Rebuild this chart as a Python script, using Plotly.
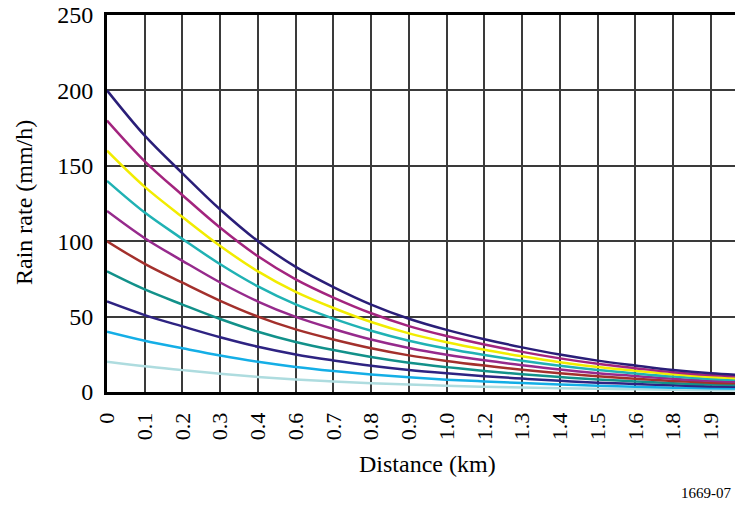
import plotly.graph_objects as go

# x positions (grid index) of the sampled points; last point is the right edge
x_pos = [0, 1, 2, 3, 4, 5, 6, 7, 8, 9, 10, 11, 12, 13, 14, 15, 16, 16.7]

# tick labels as printed under each vertical grid line
tick_pos = list(range(17))
tick_labels = ["0", "0.1", "0.2", "0.3", "0.4", "0.6", "0.7", "0.8", "0.9", "1.0",
               "1.2", "1.3", "1.4", "1.5", "1.6", "1.8", "1.9"]

r200 = [200, 170, 145, 121, 100, 83, 69.6, 58, 48.6, 41.2, 35, 29.6, 24.8, 20.8, 17.6, 14.6, 12.4, 11.4]
r180 = [180, 153, 130.5, 108.9, 90, 74.7, 62.6, 52.2, 43.7, 37.1, 31.5, 26.6, 22.3, 18.7, 15.8, 13.1, 11.2, 10.3]
r160 = [160, 136, 116, 96.8, 80, 66.4, 55.7, 46.4, 38.9, 33, 28, 23.7, 19.8, 16.6, 14.1, 11.7, 9.9, 9.1]
r140 = [140, 119, 101.5, 84.7, 70, 58.1, 48.7, 40.6, 34, 28.8, 24.5, 20.7, 17.4, 14.6, 12.3, 10.2, 8.7, 8]
r120 = [120, 102, 87, 72.6, 60, 49.8, 41.8, 34.8, 29.2, 24.7, 21, 17.8, 14.9, 12.5, 10.6, 8.8, 7.4, 6.8]
r100 = [100, 85, 72.5, 60.5, 50, 41.5, 34.8, 29, 24.3, 20.6, 17.5, 14.8, 12.4, 10.4, 8.8, 7.3, 6.2, 5.7]
r80 = [80, 68, 58, 48.4, 40, 33.2, 27.8, 23.2, 19.4, 16.5, 14, 11.8, 9.9, 8.3, 7, 5.8, 5, 4.6]
r60 = [60, 51, 43.5, 36.3, 30, 24.9, 20.9, 17.4, 14.6, 12.4, 10.5, 8.9, 7.4, 6.2, 5.3, 4.4, 3.7, 3.4]
r40 = [40, 34, 29, 24.2, 20, 16.6, 13.9, 11.6, 9.7, 8.2, 7, 5.9, 5, 4.2, 3.5, 2.9, 2.5, 2.3]
r20 = [20, 17, 14.5, 12.1, 10, 8.3, 7, 5.8, 4.9, 4.1, 3.5, 3, 2.5, 2.1, 1.8, 1.5, 1.2, 1.1]

series = [
    ("200", r200, "#2A1E78"),
    ("180", r180, "#A3247E"),
    ("160", r160, "#F2EC00"),
    ("140", r140, "#20B2B4"),
    ("120", r120, "#962A8C"),
    ("100", r100, "#A3302C"),
    ("80", r80, "#12918A"),
    ("60", r60, "#2E2382"),
    ("40", r40, "#14AEE6"),
    ("20", r20, "#AEDCDF"),
]

serif = "Liberation Serif, Times New Roman, serif"

L, R, T, B = 107, 0, 15, 113
W, H = 735, 505
pw = W - L - R
ph = H - T - B


def px(xp):
    return (xp - L) / pw


def py(yp):
    return (H - B - yp) / ph


fig = go.Figure()
for name, vals, col in reversed(series):
    fig.add_trace(go.Scatter(x=x_pos, y=vals, mode="lines", name=name,
                             line=dict(color=col, width=2.5, shape="spline", smoothing=1.0),
                             showlegend=False))

fig.update_layout(
    width=W, height=H,
    margin=dict(l=L, r=R, t=T, b=B, autoexpand=False),
    paper_bgcolor="white", plot_bgcolor="white",
    font=dict(family=serif, color="black"),
    xaxis=dict(range=[0, 16.64], tickmode="array", tickvals=tick_pos, ticktext=tick_labels,
               tickangle=-90, tickfont=dict(size=22, family=serif), ticklabelstandoff=9,
               showgrid=True, gridcolor="#3a3a3a", gridwidth=1.5, automargin=False,
               showline=True, linecolor="black", linewidth=3, mirror=True,
               zeroline=False, ticks=""),
    yaxis=dict(range=[0, 250], tickmode="array", tickvals=[0, 50, 100, 150, 200, 250],
               tickfont=dict(size=24, family=serif), ticklabelstandoff=6,
               showgrid=True, gridcolor="#3a3a3a", gridwidth=1.5, automargin=False,
               showline=True, linecolor="black", linewidth=3,
               zeroline=False, ticks=""),
    annotations=[
        dict(text="Distance (km)", x=px(427), y=py(464), xref="paper", yref="paper",
             xanchor="center", yanchor="middle", showarrow=False,
             font=dict(size=24, family=serif)),
        dict(text="1669-07", x=px(733), y=py(493), xref="paper", yref="paper",
             xanchor="right", yanchor="middle", showarrow=False,
             font=dict(size=15, family=serif)),
        dict(text="Rain rate (mm/h)", x=px(24), y=py(203), xref="paper", yref="paper",
             xanchor="center", yanchor="middle", textangle=-90, showarrow=False,
             font=dict(size=24, family=serif)),
    ],
)

fig.write_html("out.html", config={"displayModeBar": False},
               post_script="document.body.style.margin='0';document.body.style.overflow='hidden';")
